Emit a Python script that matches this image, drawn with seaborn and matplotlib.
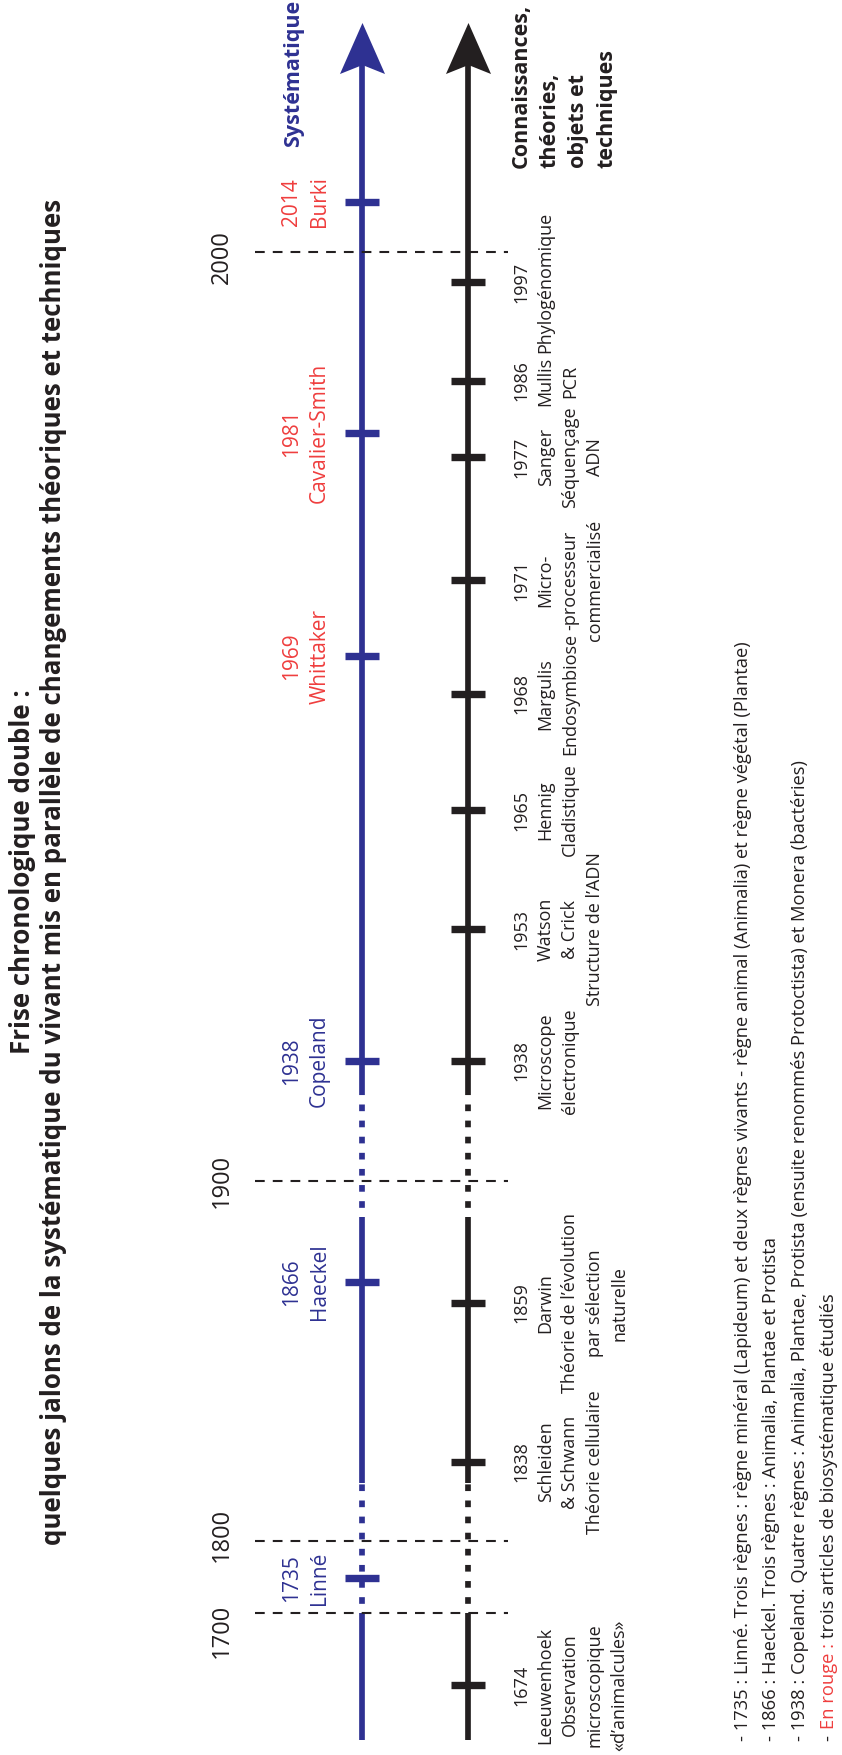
import matplotlib
matplotlib.use('Agg')
import matplotlib.pyplot as plt
import seaborn as sns
import numpy as np
from matplotlib.path import Path
from matplotlib.markers import MarkerStyle

# Systématique (ligne bleue) : année, auteur, article étudié (en rouge)
sys_annees = [1735, 1866, 1938, 1969, 1981, 2014]
sys_auteurs = ['Linné', 'Haeckel', 'Copeland', 'Whittaker', 'Cavalier-Smith', 'Burki']
sys_etudies = [False, False, False, True, True, True]

# Connaissances, théories, objets et techniques (ligne noire)
tech_annees = [1674, 1838, 1859, 1938, 1953, 1965, 1968, 1971, 1977, 1986, 1997]
tech_textes = [
    'Leeuwenhoek\nObservation\nmicroscopique\n«d’animalcules»',
    'Schleiden\n& Schwann\nThéorie cellulaire',
    'Darwin\nThéorie de l’évolution\npar sélection\nnaturelle',
    'Microscope\nélectronique',
    'Watson\n& Crick\nStructure de l’ADN',
    'Hennig\nCladistique',
    'Margulis\nEndosymbiose',
    'Micro-\n-processeur\ncommercialisé',
    'Sanger\nSéquençage\nADN',
    'Mullis\nPCR',
    'Phylogénomique',
]

siecles = [1700, 1800, 1900, 2000]

titre = ('Frise chronologique double :\n'
         'quelques jalons de la systématique du vivant mis en parallèle '
         'de changements théoriques et techniques')
notes = [
    '- 1735 : Linné. Trois règnes : règne minéral (Lapideum) et deux règnes vivants '
    '- règne animal (Animalia) et règne végétal (Plantae)',
    '- 1866 : Haeckel. Trois règnes : Animalia, Plantae et Protista',
    '- 1938 : Copeland. Quatre règnes : Animalia, Plantae, Protista '
    '(ensuite renommés Protoctista) et Monera (bactéries)',
]
note_rouge = ['-', 'En rouge :', 'trois articles de biosystématique étudiés']

# échelle non proportionnelle de la frise : année -> pixels depuis le haut
echelle_annees = [1640, 1674, 1700, 1735, 1800, 1838, 1859, 1866, 1900, 1938, 1953,
                  1965, 1968, 1969, 1971, 1977, 1981, 1986, 1997, 2000, 2014, 2080]
echelle_px = [1779, 1685, 1613, 1578, 1541, 1462, 1303, 1282, 1181, 1061, 929,
              810, 694, 656, 580, 457, 433, 381, 282, 252, 202, -34]


def vers_px(annee):
    return -np.interp(annee, echelle_annees, echelle_px)


def vers_annee(v):
    return np.interp(-np.asarray(v, dtype=float), echelle_px[::-1], echelle_annees[::-1])


W, H = 842, 1755
bleu, noir, rouge = '#2E3192', '#231F20', '#EF3E3E'

sns.set_theme(style='white')
plt.rcParams['font.family'] = ['Open Sans', 'DejaVu Sans']
plt.rcParams['lines.scale_dashes'] = False


def fx(px):
    return px / W


def fy(px):
    return 1 - px / H


fig = plt.figure(figsize=(W / 100, H / 100), dpi=100, facecolor='white')
ax = fig.add_axes([0, 0, 1, 1])
ax.set_yscale('function', functions=(vers_px, vers_annee))
ax.set_xlim(0, W)
ax.set_ylim(float(vers_annee(-H)), float(vers_annee(0)))
ax.axis('off')

# les deux lignes du temps (pleines et pointillées)
x_sys, x_tech = 362, 468
pleins = [(1654, 1700), (1828, 1888), (1928, 2057)]
pointilles = [(1700, 1828), (1888, 1928)]
for x, c in [(x_sys, bleu), (x_tech, noir)]:
    for a, b in pleins:
        ax.plot([x, x], [a, b], color=c, lw=4.1, solid_capstyle='butt', zorder=2)
    for a, b in pointilles:
        ax.plot([x, x], [a, b], color=c, lw=4.1, ls=(5, (4.8, 6.8)),
                dash_capstyle='butt', zorder=2)

# pointes de flèche
tete = Path([(0, 25.5), (22.5, -25.5), (0, -16.5), (-22.5, -25.5), (0, 25.5)],
            [Path.MOVETO, Path.LINETO, Path.LINETO, Path.LINETO, Path.CLOSEPOLY])
for x, c in [(x_sys, bleu), (x_tech, noir)]:
    sns.scatterplot(x=[x], y=[2057], marker=MarkerStyle(tete), s=1350, color=c,
                    linewidth=0, ax=ax, zorder=5, legend=False)

# siècles
ax.hlines(siecles, 255, 508, colors=noir, lw=1.5, linestyles=(0, (7, 5.8)), zorder=3)
decalage_siecles = [18, -6, 0, 5]
for s, d in zip(siecles, decalage_siecles):
    ax.annotate(str(s), xy=(228, s), xytext=(0, -d * 0.72), textcoords='offset points',
                rotation=90, rotation_mode='anchor', ha='center', va='baseline',
                fontsize=17, color=noir)

# graduations
sns.scatterplot(x=[x_sys] * len(sys_annees), y=sys_annees, marker='_', s=610,
                linewidth=5.3, color=bleu, ax=ax, zorder=4, legend=False)
sns.scatterplot(x=[x_tech] * len(tech_annees), y=tech_annees, marker='_', s=610,
                linewidth=5.3, color=noir, ax=ax, zorder=4, legend=False)

# étiquettes
for annee, nom, etudie in zip(sys_annees, sys_auteurs, sys_etudies):
    ax.text(281, annee, f'{annee}\n{nom}', rotation=90, rotation_mode='anchor',
            ha='center', va='top', multialignment='center', linespacing=1.45,
            fontsize=15, color=rouge if etudie else bleu)

for annee, texte in zip(tech_annees, tech_textes):
    ax.text(512, annee, f'{annee}\n{texte}', rotation=90, rotation_mode='anchor',
            ha='center', va='top', multialignment='center', linespacing=1.47,
            fontsize=13, color=noir)

# en-têtes
fig.text(fx(299), fy(147), 'Systématique', rotation=90, rotation_mode='anchor',
         ha='left', va='baseline', fontsize=15.5, fontweight='bold', color=bleu)
fig.text(fx(511), fy(168), 'Connaissances,\nthéories,\nobjets et\ntechniques',
         rotation=90, rotation_mode='anchor', ha='left', va='top',
         multialignment='left', linespacing=1.46, fontsize=15.5, fontweight='bold',
         color=noir)

# titre
fig.text(fx(9), fy(872), titre, rotation=90, rotation_mode='anchor', ha='center',
         va='top', multialignment='center', linespacing=1.2, fontsize=18.6,
         fontweight='bold', color=noir)

# notes
for i, note in enumerate(notes):
    fig.text(fx(748 + 28.5 * i), fy(1741), note, rotation=90, rotation_mode='anchor',
             ha='left', va='baseline', fontsize=13.2, color=noir)

x4 = 748 + 28.5 * 3
t = fig.text(fx(x4), fy(1741), note_rouge[0], rotation=90, rotation_mode='anchor',
             ha='left', va='baseline', fontsize=13.2, color=noir)
for morceau, c in zip(note_rouge[1:], [rouge, noir]):
    t = ax.annotate(morceau, xy=(fx(x4), 1), xycoords=('figure fraction', t),
                    xytext=(0, 4.0), textcoords='offset points', rotation=90,
                    rotation_mode='anchor', ha='left', va='baseline', fontsize=13.2,
                    color=c)

fig.savefig('out.png', dpi=100, facecolor='white')
